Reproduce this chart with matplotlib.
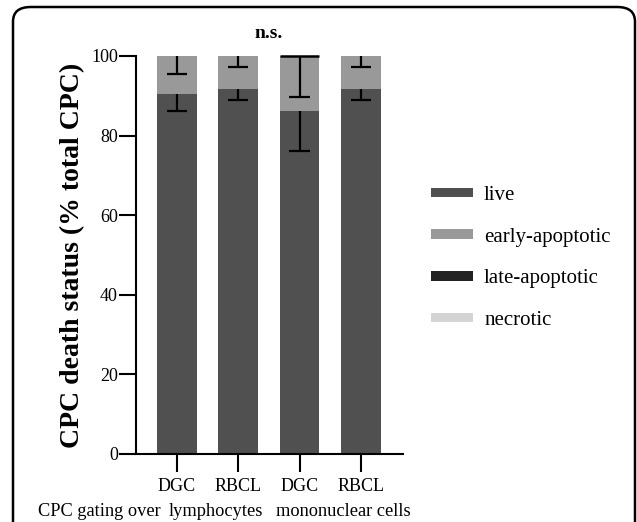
import numpy as np
import matplotlib.pyplot as plt
from matplotlib.patches import FancyBboxPatch

plt.rcParams["font.family"] = ["Liberation Serif", "DejaVu Serif"]

# data
groups = ["DGC", "RBCL", "DGC", "RBCL"]
live = [90.4, 91.6, 86.2, 91.6]
live_err = [4.2, 2.7, 10.1, 2.7]
early = [9.6, 8.4, 13.8, 8.4]
early_err = [4.5, 2.7, 10.2, 2.7]
late = [0.0, 0.0, 0.0, 0.0]
necrotic = [0.0, 0.0, 0.0, 0.0]
top_cap = [False, False, True, False]

colors = {"live": "#505050", "early-apoptotic": "#999999",
          "late-apoptotic": "#222222", "necrotic": "#d4d4d4"}

fig = plt.figure(figsize=(6.37, 5.22), dpi=100)
ax = fig.add_axes([136 / 637, 1 - 454 / 522, 267 / 637, 398 / 522])

x = np.arange(len(groups))
w = 0.65
cap = 0.165
live = np.array(live)
early = np.array(early)
late = np.array(late)
necrotic = np.array(necrotic)

ax.bar(x, live, w, color=colors["live"], label="live")
ax.bar(x, early, w, bottom=live, color=colors["early-apoptotic"], label="early-apoptotic")
ax.bar(x, late, w, bottom=live + early, color=colors["late-apoptotic"], label="late-apoptotic")
ax.bar(x, necrotic, w, bottom=live + early + late, color=colors["necrotic"], label="necrotic")

# error bars drawn only downward, like the original
tot = live + early
for tops, errs in [(live, live_err), (tot, early_err)]:
    lows = tops - np.array(errs)
    ax.vlines(x, lows, tops, color="black", lw=1.6, clip_on=False)
    ax.hlines(lows, x - cap, x + cap, color="black", lw=1.6)
for xi, t, c in zip(x, tot, top_cap):
    if c:
        ax.hlines(t, xi - w / 2, xi + w / 2, color="black", lw=1.8, clip_on=False)

ax.set_xlim(-0.67, 3.69)
ax.set_ylim(0, 100)
ax.set_yticks([0, 20, 40, 60, 80, 100])
ax.set_xticks(x)
ax.set_xticklabels(groups)
ax.tick_params(axis="both", labelsize=13, width=1.5, color="black")
ax.tick_params(axis="y", length=12, pad=1)
ax.tick_params(axis="x", length=13, pad=4)
for s in ["top", "right"]:
    ax.spines[s].set_visible(False)
for s in ["left", "bottom"]:
    ax.spines[s].set_linewidth(1.5)

ax.set_ylabel("CPC death status (% total CPC)", fontsize=20, fontweight="bold", labelpad=4)
ax.text(1.5, 103.5, "n.s.", ha="center", va="bottom", fontsize=14, fontweight="bold")

leg = ax.legend(loc="center left", bbox_to_anchor=(431 / 637, 1 - 258 / 522),
                bbox_transform=fig.transFigure, frameon=False, fontsize=15,
                handlelength=2.0, handleheight=0.3, labelspacing=1.1, handletextpad=0.55,
                borderpad=0, borderaxespad=0)

ty = 1 - 512 / 522
fig.text(38 / 637, ty, "CPC gating over", fontsize=13.2, va="center", ha="left")
fig.text(216 / 637, ty, "lymphocytes", fontsize=13.2, va="center", ha="center")
fig.text(343.5 / 637, ty, "mononuclear cells", fontsize=13.2, va="center", ha="center")

border = FancyBboxPatch((13 / 637, -0.1), 622 / 637, 1 - 7 / 522 + 0.1,
                        boxstyle="round,pad=0,rounding_size=0.028", transform=fig.transFigure,
                        fill=False, lw=1.8, ec="black", clip_on=False)
fig.patches.append(border)

fig.savefig("out.png", dpi=100)
